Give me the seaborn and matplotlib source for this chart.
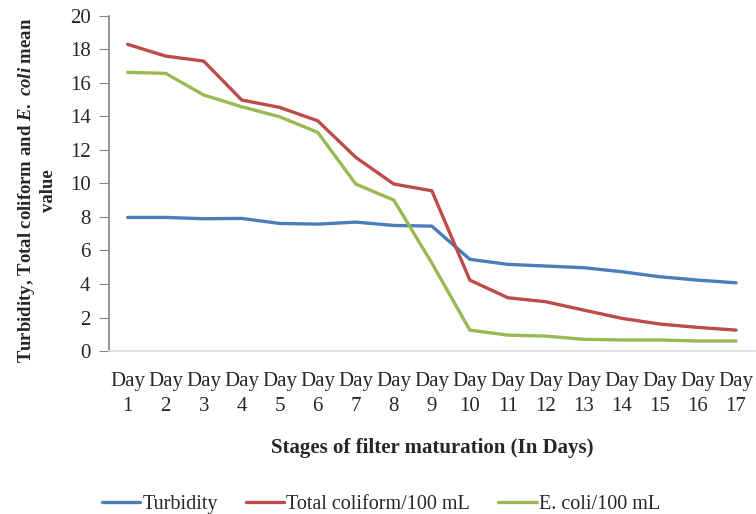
import matplotlib
matplotlib.use("Agg")
import matplotlib.pyplot as plt
import seaborn as sns
import pandas as pd

days = [f"Day\n{d}" for d in range(1, 18)]
turbidity = [7.97, 7.97, 7.89, 7.91, 7.61, 7.57, 7.69, 7.49, 7.45,
             5.47, 5.17, 5.07, 4.97, 4.73, 4.43, 4.23, 4.07]
total_coliform = [18.29, 17.59, 17.29, 14.97, 14.53, 13.73, 11.55, 9.96, 9.56,
                  4.23, 3.18, 2.94, 2.44, 1.95, 1.61, 1.41, 1.25]
e_coli = [16.62, 16.56, 15.27, 14.57, 13.97, 13.04, 9.96, 9.00, 5.25,
          1.25, 0.95, 0.89, 0.70, 0.66, 0.66, 0.60, 0.60]
series_names = ["Turbidity", "Total coliform/100 mL", "E. coli/100 mL"]
colors = ["#4A7EBB", "#BE4B48", "#98B954"]

frames = []
for name, vals in zip(series_names, [turbidity, total_coliform, e_coli]):
    frames.append(pd.DataFrame({"pos": range(len(days)), "value": vals, "series": name}))
df = pd.concat(frames, ignore_index=True)

sns.set_theme(style="white")
plt.rcParams["font.family"] = ["Liberation Serif", "DejaVu Serif"]
plt.rcParams["mathtext.fontset"] = "custom"
plt.rcParams["mathtext.rm"] = "Liberation Serif:bold"
plt.rcParams["mathtext.it"] = "Liberation Serif:italic:bold"

fig = plt.figure(figsize=(7.56, 5.14), dpi=100)
ax = fig.add_axes([0.1437, 0.317, 0.855, 0.6525])

sns.lineplot(data=df, x="pos", y="value", hue="series", hue_order=series_names,
             palette=colors, linewidth=2.4, ax=ax, legend=False)

ax.set_xlim(-0.5, len(days) - 0.5)
ax.set_ylim(0, 20)
ax.set_yticks(range(0, 21, 2))
ax.set_xticks(range(len(days)))
ax.set_xticklabels(days, fontsize=15, linespacing=1.45)
ax.tick_params(axis="y", labelsize=15, length=7, width=0.8, color="#868686",
               direction="out", left=True, pad=6)
ax.tick_params(axis="x", length=0, pad=15)

for side in ["top", "right"]:
    ax.spines[side].set_visible(False)
ax.spines["left"].set_color("#868686")
ax.spines["bottom"].set_color("#D9D9D9")
ax.spines["bottom"].set_linewidth(1.2)

ax.set_xlabel("Stages of filter maturation (In Days)", fontsize=15,
              fontweight="bold", labelpad=16)
ax.set_ylabel("")
fig.text(0.048, 0.63, r"Turbidity, Total coliform and $E.\ coli$ mean" "\nvalue",
         rotation=90, ha="center", va="center", fontsize=13.5, fontweight="bold",
         linespacing=1.2)

handles = [plt.Line2D([], [], color=c, linewidth=2.4) for c in colors]
fig.legend(handles, series_names, loc="lower center", ncol=3,
           bbox_to_anchor=(0.504, -0.035), frameon=False, fontsize=14.5,
           handlelength=1.9, handletextpad=0.1, columnspacing=1.4)

fig.savefig("out.png", dpi=100)
